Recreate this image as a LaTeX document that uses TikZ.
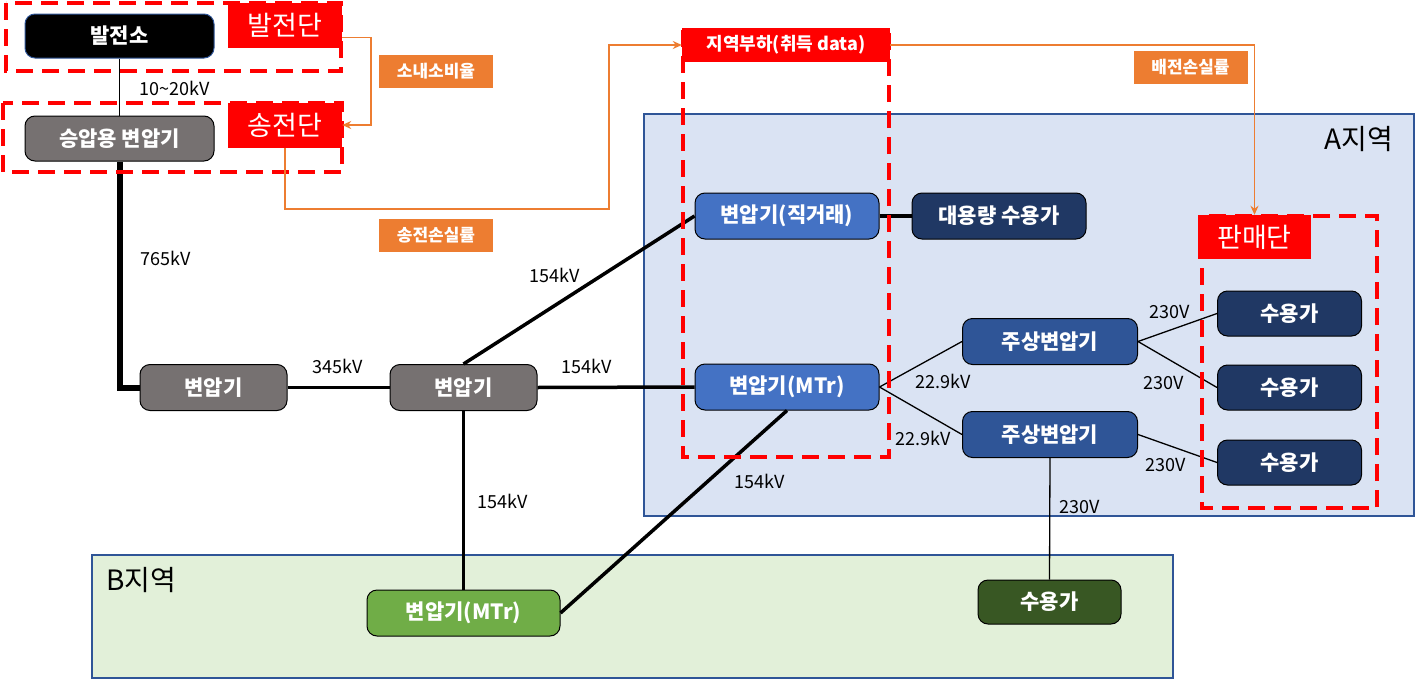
\documentclass[tikz,border=0pt]{standalone}
\usepackage{fontspec}
\setmainfont{Noto Sans CJK KR}
\usetikzlibrary{positioning,arrows.meta}

\definecolor{trgray}{HTML}{767171}
\definecolor{trblue}{HTML}{4472C4}
\definecolor{poleblue}{HTML}{2F5597}
\definecolor{navy}{HTML}{203864}
\definecolor{trgreen}{HTML}{70AD47}
\definecolor{loadgreen}{HTML}{385723}
\definecolor{areaA}{HTML}{DAE3F3}
\definecolor{areaB}{HTML}{E2F0D9}
\definecolor{rateorange}{HTML}{ED7D31}

\tikzset{
  box/.style={draw=black, line width=1pt, rounded corners=10pt, text=white,
    font=\bfseries\fontsize{21}{23}\selectfont, minimum height=46pt, inner sep=0pt},
  tag/.style={fill=red, text=white, inner sep=0pt, font=\fontsize{27}{29}\selectfont,
    minimum width=114pt, minimum height=45pt},
  rate/.style={fill=rateorange, text=white, inner sep=0pt, font=\bfseries\fontsize{17}{19}\selectfont,
    minimum width=114pt, minimum height=33pt},
  volt/.style={font=\fontsize{18}{20}\selectfont, inner sep=0pt},
  zone/.style={draw=red, line width=3.5pt, dash pattern=on 17pt off 9pt},
  bus/.style={line width=3.5pt},
  feeder/.style={line width=1.3pt},
  flow/.style={draw=rateorange, line width=1.6pt, -{Stealth[length=9pt,width=8pt]}}
}

\begin{document}
\begin{tikzpicture}[x=1pt,y=-1pt]
   \useasboundingbox (0,0) rectangle (1419,680);

   % areas
   \draw[fill=areaA, draw=poleblue, line width=1.2pt] (644,114) rectangle (1414,516);
   \draw[fill=areaB, draw=poleblue, line width=1.2pt] (92,555) rectangle (1173,678);
   \node[font=\fontsize{28}{30}\selectfont] (areaAname) at (1359,139) {A지역};
   \node[font=\fontsize{28}{30}\selectfont] (areaBname) at (141,580) {B지역};

   % nodes
   \node[box, fill=black, draw=poleblue, minimum width=189pt, minimum height=44pt] (plant) at (119.5,36) {발전소};
   \node[box, fill=trgray, minimum width=189pt, minimum height=45pt] (stepup) at (119.5,138.5) {승압용 변압기};
   \node[box, fill=trgray, minimum width=147pt] (tr1) at (213.5,387.5) {변압기};
   \node[box, fill=trgray, minimum width=147pt] (tr2) at (463.5,387.5) {변압기};
   \node[box, fill=trblue, minimum width=184pt] (direct) at (787,216) {변압기(직거래)};
   \node[box, fill=navy, minimum width=174pt] (bigload) [right=32pt of direct] {대용량 수용가};
   \node[box, fill=trblue, minimum width=184pt] (mtrA) at (787,387) {변압기(MTr)};
   \node[box, fill=trgreen, minimum width=193pt] (mtrB) at (463.5,613) {변압기(MTr)};
   \node[box, fill=poleblue, minimum width=175pt] (pole1) at (1050,341.5) {주상변압기};
   \node[box, fill=poleblue, minimum width=175pt] (pole2) [below=46pt of pole1] {주상변압기};
   \node[box, fill=navy, minimum width=144pt, minimum height=45pt] (cust1) at (1289.5,313.5) {수용가};
   \node[box, fill=navy, minimum width=144pt, minimum height=45pt] (cust2) [below=28pt of cust1] {수용가};
   \node[box, fill=navy, minimum width=144pt, minimum height=45pt] (cust3) [below=29pt of cust2] {수용가};
   \node[box, fill=loadgreen, minimum width=143pt, minimum height=44pt] (custB) at (1049.5,602) {수용가};

   % lines
   \draw[feeder] (plant.south) -- (stepup.north);
   \draw[line width=6pt] (stepup.south) |- (tr1.west);
   \draw[bus] (tr1.east) -- (tr2.west);
   \draw[bus] (tr2.north) -- (direct.west);
   \draw[bus] (tr2.east) -- (mtrA.west);
   \draw[bus] (tr2.south) -- (mtrB.north);
   \draw[bus] (mtrB.east) -- (mtrA.south);
   \draw[bus] (direct.east) -- (bigload.west);
   \draw[feeder] (mtrA.east) -- (pole1.west);
   \draw[feeder] (mtrA.east) -- (pole2.west);
   \draw[feeder] (pole1.east) -- (cust1.west);
   \draw[feeder] (pole1.east) -- (cust2.west);
   \draw[feeder] (pole2.east) -- (cust3.west);
   \draw[feeder] (pole2.south) -- (custB.north);

   % voltages
   \node[volt] (v1) at (175,88) {10\char`\~20kV};
   \node[volt] (v2) at (166,258) {765kV};
   \node[volt] (v3) at (338,366) {345kV};
   \node[volt] (v4) at (555,275) {154kV};
   \node[volt] (v5) at (587,366) {154kV};
   \node[volt] (v6) at (503,501) {154kV};
   \node[volt] (v7) at (760,481) {154kV};
   \node[volt] (v8) at (943,381) {22.9kV};
   \node[volt] (v9) at (923,438) {22.9kV};
   \node[volt] (v10) at (1170,312) {230V};
   \node[volt] (v11) at (1164,383) {230V};
   \node[volt] (v12) at (1166,465) {230V};
   \node[volt] (v13) at (1080,507) {230V};

   % stages
   \draw[zone] (6,3) rectangle (341,71);
   \draw[zone] (3,103) rectangle (342,172);
   \draw[zone] (683,30) rectangle (889,457);
   \draw[zone] (1202,216) rectangle (1377,508);
   \node[tag] (genlab) at (285,25.5) {발전단};
   \node[tag] (translab) at (285,125) {송전단};
   \node[tag, minimum width=113pt, minimum height=44pt] (salelab) at (1254.5,237) {판매단};
   \node[tag, minimum width=208pt, minimum height=34pt, font=\bfseries\fontsize{18}{20}\selectfont] (loadlab) at (786,45) {지역부하(취득 data)};

   % loss rates
   \node[rate] (selfrate) at (436,71) {소내소비율};
   \node[rate] (transrate) at (436,235) {송전손실률};
   \node[rate] (distrate) at (1190.5,67.5) {배전손실률};
   \coordinate (bend) at (609,209);
   \draw[flow] ([yshift=-12pt]genlab.east) -- ++(29,0) |- (translab.east);
   \draw[flow] (translab.south) |- (bend) |- (loadlab.west);
   \draw[flow] (loadlab.east) -| (salelab.north);
\end{tikzpicture}
\end{document}
